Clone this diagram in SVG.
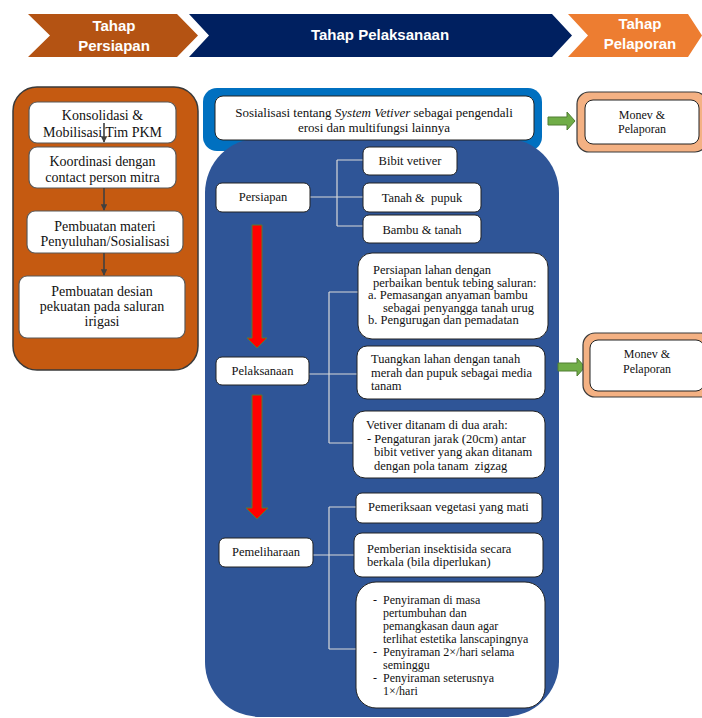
<svg xmlns="http://www.w3.org/2000/svg" width="702" height="718" viewBox="0 0 702 718">
<defs>
<style>
.hdr{font-family:"Liberation Sans",Arial,sans-serif;font-weight:bold;font-size:15px;fill:#fff;text-anchor:middle}
.lt{font-family:"Liberation Serif","Times New Roman",serif;font-size:14px;fill:#111;text-anchor:middle}
.bt{font-family:"Liberation Serif","Times New Roman",serif;font-size:12.5px;fill:#111}
.bs{font-family:"Liberation Serif","Times New Roman",serif;font-size:12px;fill:#111}
.bc{font-family:"Liberation Serif","Times New Roman",serif;font-size:12.5px;fill:#111;text-anchor:middle;white-space:pre}
.st{font-family:"Liberation Serif","Times New Roman",serif;font-size:13px;fill:#111;text-anchor:middle}
.mt{font-family:"Liberation Serif","Times New Roman",serif;font-size:12px;fill:#111;text-anchor:middle}
.lbox{fill:#fff;stroke:#595959;stroke-width:1.2}
.wbox{fill:#fff;stroke:#222;stroke-width:1}
.conn{stroke:#d9d9d9;stroke-width:1.2;fill:none}
.red{fill:#ff0000;stroke:#5b7b2f;stroke-width:1}
.grn{fill:#70ad47;stroke:#507e32;stroke-width:1}
.larr{stroke:#404040;stroke-width:1.6;fill:none}
</style>
<marker id="ah" viewBox="0 0 10 10" refX="9" refY="5" markerWidth="4" markerHeight="4" orient="auto">
<path d="M0,0 L10,5 L0,10 z" fill="#404040"/>
</marker>
</defs>
<rect width="702" height="718" fill="#fff"/>

<g id="header">
<polygon points="28,14 177,14 198,35.5 177,57 28,57 50,35.5" fill="#b45313"/>
<polygon points="189,14 552,14 572,35.5 552,57 189,57 209,35.5" fill="#002060"/>
<polygon points="568,14 688,14 702,35.5 688,57 568,57 588,35.5" fill="#ed7d31"/>
<text class="hdr" x="114" y="31">Tahap</text>
<text class="hdr" x="114" y="51">Persiapan</text>
<text class="hdr" x="380" y="40">Tahap Pelaksanaan</text>
<text class="hdr" x="640" y="29">Tahap</text>
<text class="hdr" x="640" y="49">Pelaporan</text>
</g>

<g id="persiapan-panel">
<rect x="13" y="87" width="185" height="283" rx="24" fill="#c55a11" stroke="#3a3a3a" stroke-width="1.5"/>
</g>
<g id="konsolidasi">
<rect class="lbox" x="29" y="102" width="147" height="41" rx="8"/>
<text class="lt" x="102.5" y="119.5">Konsolidasi &amp;</text>
<text class="lt" x="102.5" y="136.5">Mobilisasi Tim PKM</text>
</g>
<g id="koordinasi">
<rect class="lbox" x="29" y="147" width="147" height="41" rx="8"/>
<text class="lt" x="102.5" y="165.5">Koordinasi dengan</text>
<text class="lt" x="102.5" y="181.5">contact person mitra</text>
</g>
<g id="pembuatan-materi">
<rect class="lbox" x="27" y="211" width="156" height="42" rx="8"/>
<text class="lt" x="105" y="230.5">Pembuatan materi</text>
<text class="lt" x="105" y="245.5">Penyuluhan/Sosialisasi</text>
</g>
<g id="pembuatan-desian">
<rect class="lbox" x="19" y="276" width="166" height="62" rx="8"/>
<text class="lt" x="102" y="296">Pembuatan desian</text>
<text class="lt" x="102" y="311">pekuatan pada saluran</text>
<text class="lt" x="102" y="326">irigasi</text>
</g>

<g id="sosialisasi">
<rect x="203" y="88" width="339" height="63" rx="14" fill="#0070c0"/>
</g>
<g id="pelaksanaan-panel">
<rect x="205" y="138" width="354" height="579" rx="55" fill="#2f5597"/>
</g>
<g id="sosialisasi-box">
<rect class="wbox" x="215" y="96" width="319" height="44" rx="8"/>
<text class="st" x="374" y="116.5">Sosialisasi tentang <tspan font-style="italic">System Vetiver</tspan> sebagai pengendali</text>
<text class="st" x="374" y="131.5">erosi dan multifungsi lainnya</text>
</g>

<g id="connectors">
<path class="larr" d="M104,123 V142" marker-end="url(#ah)"/>
<path class="larr" d="M104,188 V210" marker-end="url(#ah)"/>
<path class="larr" d="M104,253 V275" marker-end="url(#ah)"/>
<path class="conn" d="M310,197 H363 M337,160 V226 M337,160 H363 M337,226 H363"/>
<path class="conn" d="M309,374 H357 M329,292 V443 M329,292 H358 M329,443 H353"/>
<path class="conn" d="M313,555 H354 M329,507 V649 M329,507 H356 M329,649 H356"/>
<polygon class="red" points="252,225 262,225 262,338 267,338 257,348 247,338 252,338"/>
<polygon class="red" points="252,395 262,395 262,508 268,508 257,519 246,508 252,508"/>
<polygon class="grn" points="548,117 567,117 567,112 575,121 567,130 567,125 548,125"/>
<polygon class="grn" points="558,363 577,363 577,358 585,367 577,376 577,371 558,371"/>
</g>

<g id="persiapan">
<rect class="wbox" x="216" y="183" width="94" height="29" rx="6"/>
<text class="bc" x="263" y="201">Persiapan</text>
</g>
<g id="bibit">
<rect class="wbox" x="363" y="147" width="94" height="28" rx="6"/>
<text class="bc" x="410" y="164.5">Bibit vetiver</text>
</g>
<g id="tanah">
<rect class="wbox" x="363" y="183" width="118" height="29" rx="6"/>
<text class="bc" x="422" y="201.5">Tanah &amp;  pupuk</text>
</g>
<g id="bambu">
<rect class="wbox" x="363" y="215" width="118" height="28" rx="6"/>
<text class="bc" x="422" y="233.5">Bambu &amp; tanah</text>
</g>

<g id="pelaksanaan">
<rect class="wbox" x="216" y="357" width="93" height="28" rx="6"/>
<text class="bc" x="262.5" y="375">Pelaksanaan</text>
</g>
<g id="persiapan-lahan">
<rect class="wbox" x="358" y="253" width="190" height="86" rx="14"/>
<text class="bt" x="373" y="274">Persiapan lahan dengan</text>
<text class="bt" x="373" y="286.5">perbaikan bentuk tebing saluran:</text>
<text class="bt" x="368" y="299">a. Pemasangan anyaman bambu</text>
<text class="bt" x="383" y="311.5">sebagai penyangga tanah urug</text>
<text class="bt" x="368" y="324">b. Pengurugan dan pemadatan</text>
</g>
<g id="tuangkan">
<rect class="wbox" x="357" y="346" width="188" height="53" rx="10"/>
<text class="bt" x="371" y="363">Tuangkan lahan dengan tanah</text>
<text class="bt" x="371" y="377">merah dan pupuk sebagai media</text>
<text class="bt" x="371" y="390">tanam</text>
</g>
<g id="vetiver">
<rect class="wbox" x="353" y="411" width="192" height="67" rx="12"/>
<text class="bt" x="366" y="429">Vetiver ditanam di dua arah:</text>
<text class="bt" x="367" y="443">-  Pengaturan jarak (20cm) antar</text>
<text class="bt" x="374" y="456">bibit vetiver yang akan ditanam</text>
<text class="bt" x="374" y="470" style="white-space:pre">dengan pola tanam  zigzag</text>
</g>

<g id="pemeliharaan">
<rect class="wbox" x="219" y="538" width="94" height="29" rx="6"/>
<text class="bc" x="266" y="556">Pemeliharaan</text>
</g>
<g id="pemeriksaan">
<rect class="wbox" x="356" y="493" width="186" height="30" rx="6"/>
<text class="bt" x="368" y="511">Pemeriksaan vegetasi yang mati</text>
</g>
<g id="pemberian">
<rect class="wbox" x="354" y="533" width="189" height="44" rx="8"/>
<text class="bt" x="367" y="553">Pemberian insektisida secara</text>
<text class="bt" x="367" y="566">berkala (bila diperlukan)</text>
</g>
<g id="penyiraman">
<rect class="wbox" x="356" y="582" width="189" height="126" rx="20"/>
<text class="bs" x="373" y="604">-</text>
<text class="bs" x="383" y="604">Penyiraman di masa</text>
<text class="bs" x="383" y="617">pertumbuhan dan</text>
<text class="bs" x="383" y="630">pemangkasan daun agar</text>
<text class="bs" x="383" y="643">terlihat estetika lanscapingnya</text>
<text class="bs" x="373" y="656">-</text>
<text class="bs" x="383" y="656">Penyiraman 2×/hari selama</text>
<text class="bs" x="383" y="669">seminggu</text>
<text class="bs" x="373" y="682">-</text>
<text class="bs" x="383" y="682">Penyiraman seterusnya</text>
<text class="bs" x="383" y="695">1×/hari</text>
</g>

<g id="monev-1">
<rect x="577" y="92" width="130" height="60" rx="12" fill="#f4b183" stroke="#3a3a3a" stroke-width="1.2"/>
<rect class="wbox" x="585" y="100" width="114" height="44" rx="8"/>
<text class="mt" x="642" y="119">Monev &amp;</text>
<text class="mt" x="642" y="133">Pelaporan</text>
</g>
<g id="monev-2">
<rect x="583" y="333" width="130" height="64" rx="12" fill="#f4b183" stroke="#3a3a3a" stroke-width="1.2"/>
<rect class="wbox" x="590" y="340" width="114" height="51" rx="8"/>
<text class="mt" x="647" y="358">Monev &amp;</text>
<text class="mt" x="647" y="373">Pelaporan</text>
</g>
</svg>
